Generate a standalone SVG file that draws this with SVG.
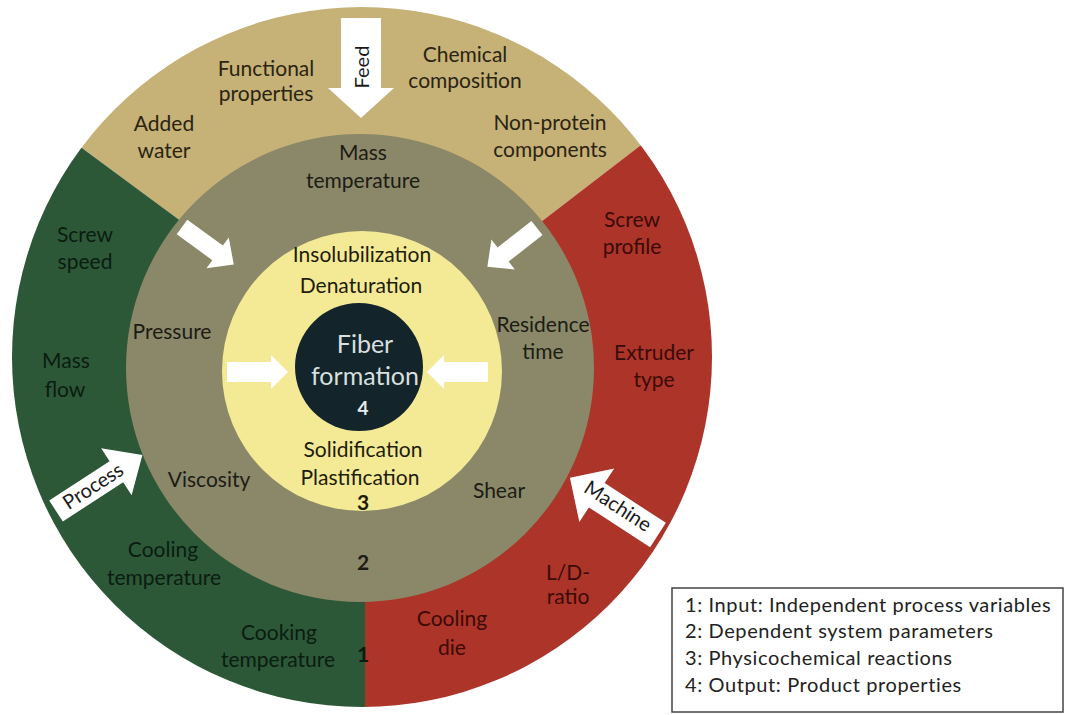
<svg xmlns="http://www.w3.org/2000/svg" width="1065" height="715" viewBox="0 0 1065 715">
<style>
text{font-family:Lato,"Open Sans","Liberation Sans",sans-serif;font-size:21px;text-anchor:middle}
.tan{fill:#2a2412}
.grn{fill:#0b1c10}
.red{fill:#3a0b07}
.olv{fill:#1c1c14}
.yel{fill:#1e1c0a}
.num{font-weight:bold}
.arr{fill:#ffffff}
.alab{font-size:20px;fill:#1a1a1a}
.core{font-size:25px;fill:#d8dfdf}
.leg{text-anchor:start;font-size:20px;fill:#222;letter-spacing:0.6px}
</style>
<defs>
<clipPath id="outerClip"><circle cx="362" cy="357" r="350"/></clipPath>
</defs>
<rect width="1065" height="715" fill="#ffffff"/>
<g id="ring1" clip-path="url(#outerClip)">
<polygon id="seg-feed" points="365,357 -13,78 -13,-20 740,-20 731,76" fill="#c6b176"/>
<polygon id="seg-machine" points="365,357 731,76 770,76 770,760 365,760" fill="#ad3429"/>
<polygon id="seg-process" points="365,357 365,760 -20,760 -20,78 -13,78" fill="#2c5838"/>
</g>
<g id="ring2"><circle cx="360" cy="368" r="234" fill="#8a8869"/></g>
<g id="ring3"><circle cx="362" cy="371" r="140" fill="#f4ea96"/></g>
<g id="core"><circle cx="359" cy="367" r="64" fill="#13252b"/></g>
<g id="connectors">
<path class="arr" transform="translate(361,18) rotate(90)" d="M0,-20 L70,-20 L70,-33 L100,0 L70,33 L70,20 L0,20 Z"/>
<path class="arr" transform="translate(182,227) rotate(36)" d="M0,-9 L44,-9 L44,-19 L64,0 L44,19 L44,9 L0,9 Z"/>
<path class="arr" transform="translate(537,228) rotate(142)" d="M0,-9 L43,-9 L43,-19 L63,0 L43,19 L43,9 L0,9 Z"/>
<path class="arr" transform="translate(227,372)" d="M0,-10 L44,-10 L44,-17 L61,0 L44,17 L44,10 L0,10 Z"/>
<path class="arr" transform="translate(488,372) rotate(180)" d="M0,-10 L44,-10 L44,-17 L61,0 L44,17 L44,10 L0,10 Z"/>
<path class="arr" transform="translate(56,511) rotate(-33)" d="M0,-12.5 L72,-12.5 L72,-28 L103,0 L72,28 L72,12.5 L0,12.5 Z"/>
<path class="arr" transform="translate(658,535) rotate(213)" d="M0,-14.5 L73,-14.5 L73,-32 L105,0 L73,32 L73,14.5 L0,14.5 Z"/>
</g>
<g id="labels-arrows">
<text class="alab" transform="translate(369,67) rotate(-90)">Feed</text>
<text class="alab" transform="translate(93,486) rotate(-33)" dy="7">Process</text>
<text class="alab" transform="translate(618,506) rotate(33)" dy="7">Machine</text>
</g>
<g id="node-functional"><text class="tan" x="266" y="76">Functional</text><text class="tan" x="266" y="101">properties</text></g>
<g id="node-added-water"><text class="tan" x="164" y="131">Added</text><text class="tan" x="164" y="158">water</text></g>
<g id="node-chemical"><text class="tan" x="465" y="62">Chemical</text><text class="tan" x="465" y="88">composition</text></g>
<g id="node-nonprotein"><text class="tan" x="550" y="130">Non-protein</text><text class="tan" x="550" y="157">components</text></g>
<g id="node-screw-profile"><text class="red" x="632" y="227">Screw</text><text class="red" x="632" y="254">profile</text></g>
<g id="node-extruder"><text class="red" x="654" y="360">Extruder</text><text class="red" x="654" y="387">type</text></g>
<g id="node-ld"><text class="red" x="568" y="580">L/D-</text><text class="red" x="568" y="604">ratio</text></g>
<g id="node-cooling-die"><text class="red" x="452" y="626">Cooling</text><text class="red" x="452" y="655">die</text></g>
<g id="node-screw-speed"><text class="grn" x="85" y="242">Screw</text><text class="grn" x="85" y="269">speed</text></g>
<g id="node-mass-flow"><text class="grn" x="66" y="368">Mass</text><text class="grn" x="65" y="397">flow</text></g>
<g id="node-cooling-temp"><text class="grn" x="163" y="557">Cooling</text><text class="grn" x="164" y="585">temperature</text></g>
<g id="node-cooking-temp"><text class="grn" x="279" y="640">Cooking</text><text class="grn" x="278" y="667">temperature</text></g>
<g id="node-1"><text class="grn num" x="363" y="662">1</text></g>
<g id="node-mass-temp"><text class="olv" x="363" y="160">Mass</text><text class="olv" x="363" y="188">temperature</text></g>
<g id="node-residence"><text class="olv" x="543" y="332">Residence</text><text class="olv" x="543" y="359">time</text></g>
<g id="node-pressure"><text class="olv" x="172" y="339">Pressure</text></g>
<g id="node-viscosity"><text class="olv" x="209" y="487">Viscosity</text></g>
<g id="node-shear"><text class="olv" x="499" y="498">Shear</text></g>
<g id="node-2"><text class="olv num" x="363" y="570">2</text></g>
<g id="node-insol"><text class="yel" x="362" y="262">Insolubilization</text><text class="yel" x="361" y="293">Denaturation</text></g>
<g id="node-solid"><text class="yel" x="363" y="457">Solidification</text><text class="yel" x="360" y="485">Plastification</text></g>
<g id="node-3"><text class="yel num" x="363" y="510">3</text></g>
<g id="node-fiber"><text class="core" x="365" y="353">Fiber</text><text class="core" x="365" y="385">formation</text><text class="num" x="363" y="415" style="font-size:19px;fill:#e8ecec">4</text></g>
<g id="legend">
<rect x="672" y="588" width="391" height="124" fill="#ffffff" stroke="#444" stroke-width="1.5"/>
<text class="leg" x="685" y="612">1: Input: Independent process variables</text>
<text class="leg" x="685" y="638">2: Dependent system parameters</text>
<text class="leg" x="685" y="665">3: Physicochemical reactions</text>
<text class="leg" x="685" y="692">4: Output: Product properties</text>
</g>
</svg>
